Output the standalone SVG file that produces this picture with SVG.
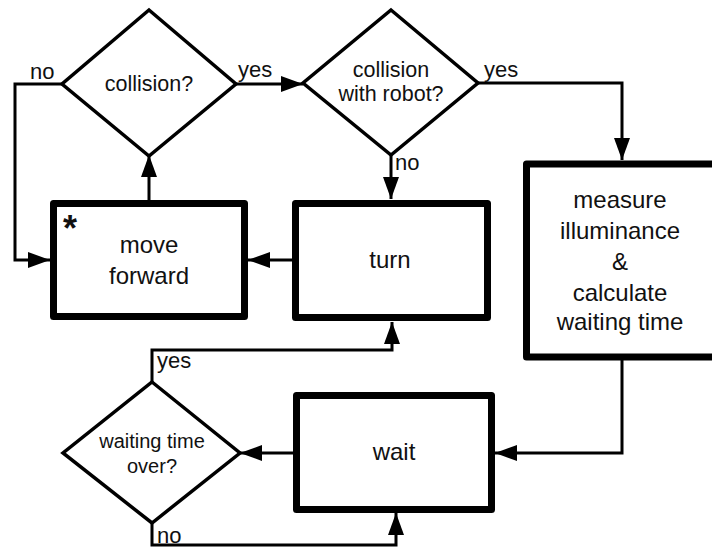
<svg xmlns="http://www.w3.org/2000/svg" width="712" height="547" viewBox="0 0 712 547">
  <style>
    .box { fill: #ffffff; stroke: #000000; stroke-width: 7; stroke-linejoin: round; }
    .dia { fill: #ffffff; stroke: #000000; stroke-width: 3.5; stroke-linejoin: miter; }
    .con { fill: none; stroke: #000000; stroke-width: 3; marker-end: url(#arr); }
    .t { font-family: "Liberation Sans", Arial, Helvetica, sans-serif; fill: #111111; text-anchor: middle; }
    .bt { font-size: 24px; }
    .dt { font-size: 21.5px; }
    .lb { font-family: "Liberation Sans", Arial, Helvetica, sans-serif; fill: #111111; font-size: 22px; }
  </style>
  <defs>
    <marker id="arr" markerUnits="userSpaceOnUse" markerWidth="22" markerHeight="16" refX="22" refY="8" orient="auto">
      <path d="M0,0 L22,8 L0,16 z" fill="#000000"/>
    </marker>
  </defs>
  <rect width="712" height="547" fill="#ffffff"/>

  <g id="connectors">
    <path class="con" d="M62,84 H15 V260 H50"/>
    <path class="con" d="M236,84 H303"/>
    <path class="con" d="M149,200 V155"/>
    <path class="con" d="M391,155 V199"/>
    <path class="con" d="M478,83 H622 V160"/>
    <path class="con" d="M292,260 H248"/>
    <path class="con" d="M622,358 V453 H495"/>
    <path class="con" d="M293,453 H240"/>
    <path class="con" d="M152,382 V350 H392 V322"/>
    <path class="con" d="M152,523 V545 H396 V513"/>
    <text class="lb" x="30" y="79">no</text>
    <text class="lb" x="238" y="77">yes</text>
    <text class="lb" x="484" y="77">yes</text>
    <text class="lb" x="395" y="170">no</text>
    <text class="lb" x="157" y="368">yes</text>
    <text class="lb" x="157" y="543">no</text>
  </g>

  <g id="collision">
    <polygon class="dia" points="149,10 236,84 149,156 62,84"/>
    <text class="t dt" x="149" y="91">collision?</text>
  </g>

  <g id="collision-robot">
    <polygon class="dia" points="391,10 478,83 391,155 303,83"/>
    <text class="t dt" x="391" y="77">collision</text>
    <text class="t dt" x="391" y="101">with robot?</text>
  </g>

  <g id="move-forward">
    <rect class="box" x="53.5" y="203.5" width="191" height="113"/>
    <text class="t" x="70" y="241" font-size="36" font-weight="bold">*</text>
    <text class="t bt" x="149" y="253">move</text>
    <text class="t bt" x="149" y="284">forward</text>
  </g>

  <g id="turn">
    <rect class="box" x="295.5" y="203.5" width="192" height="114"/>
    <text class="t bt" x="390" y="268">turn</text>
  </g>

  <g id="measure">
    <rect class="box" x="526.5" y="164" width="200" height="193"/>
    <text class="t bt" x="620" y="208">measure</text>
    <text class="t bt" x="620" y="239">illuminance</text>
    <text class="t bt" x="620" y="270">&amp;</text>
    <text class="t bt" x="620" y="301">calculate</text>
    <text class="t bt" x="620" y="330">waiting time</text>
  </g>

  <g id="wait">
    <rect class="box" x="296.5" y="395.5" width="195" height="114"/>
    <text class="t bt" x="394" y="460">wait</text>
  </g>

  <g id="waiting-over">
    <polygon class="dia" points="152,382 240,453 152,523 63,453"/>
    <text class="t" font-size="20" x="152" y="448">waiting time</text>
    <text class="t" font-size="20" x="152" y="473">over?</text>
  </g>
</svg>
